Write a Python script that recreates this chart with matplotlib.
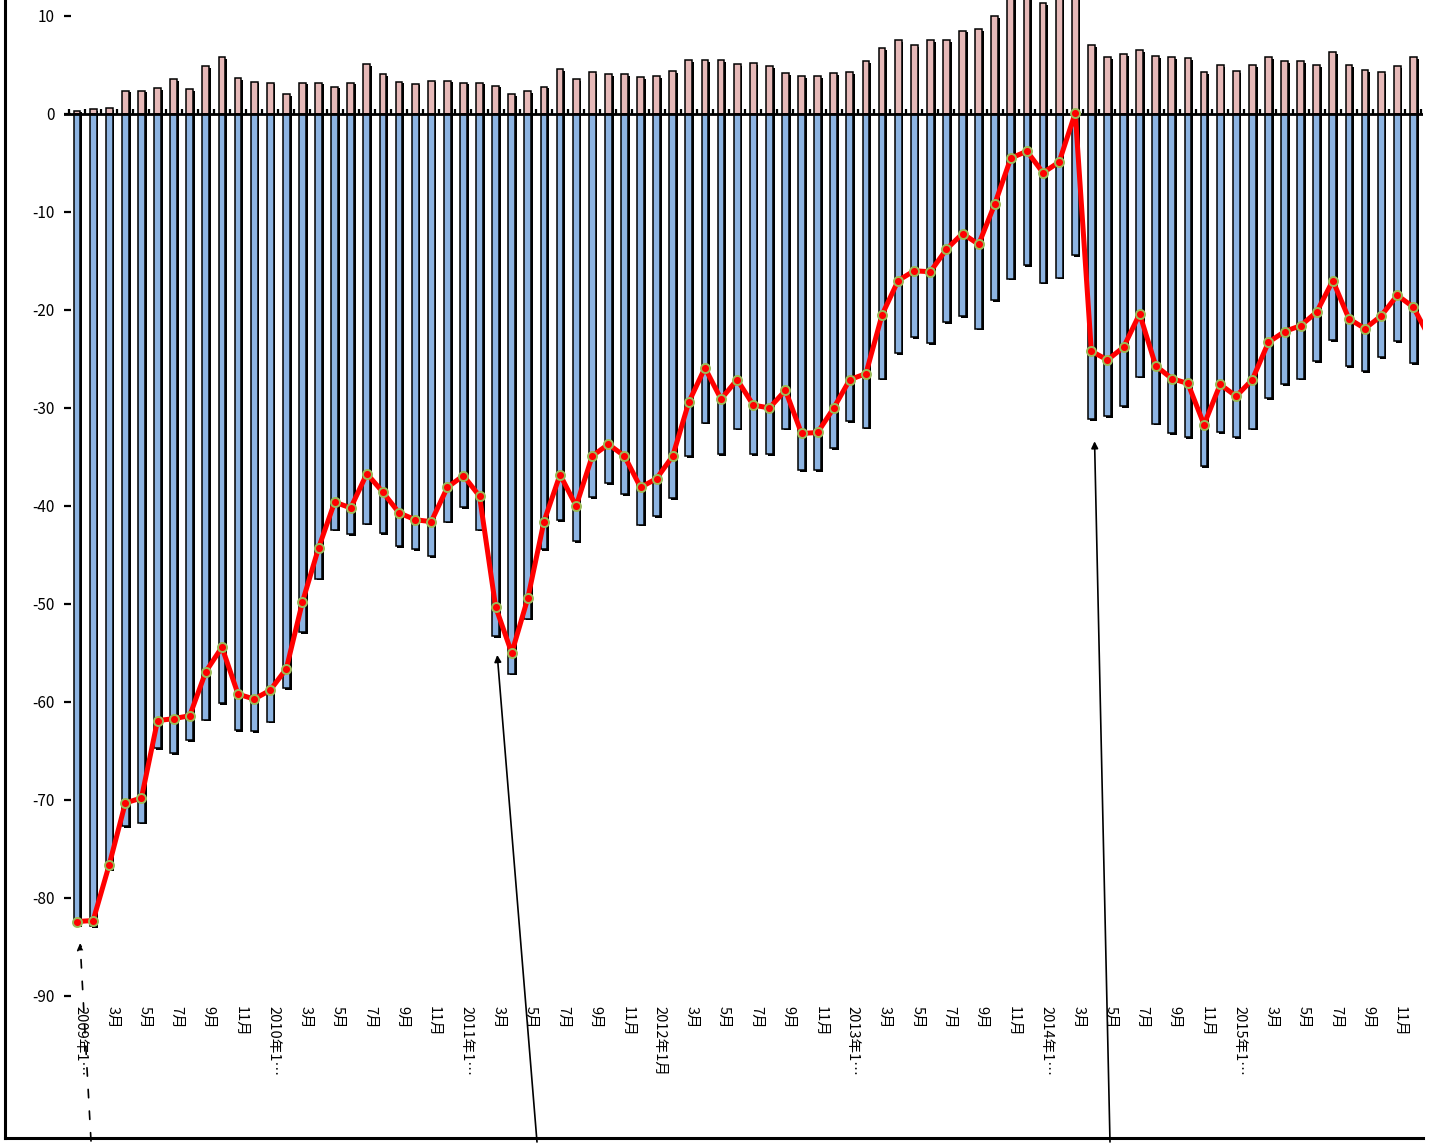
"""Monthly balance: positive / negative components as bars, net as a red line (2009-2015)."""

import matplotlib

matplotlib.use("Agg")
import matplotlib.pyplot as plt
import matplotlib.patheffects as pe
from matplotlib.lines import Line2D
from matplotlib.transforms import ScaledTranslation

# positive component per month, 2009-01 .. 2015-12
PINK = [0.34, 0.48, 0.58, 2.38, 2.38, 2.6, 3.6, 2.5, 4.9, 5.8,
        3.7, 3.3, 3.2, 2.0, 3.2, 3.2, 2.8, 3.2, 5.1, 4.05,
        3.3, 3.1, 3.4, 3.4, 3.2, 3.2, 2.9, 2.0, 2.3, 2.8,
        4.6, 3.6, 4.25, 4.05, 4.05, 3.75, 3.85, 4.35, 5.5, 5.5,
        5.5, 5.1, 5.2, 4.85, 4.2, 3.85, 3.85, 4.2, 4.3, 5.4,
        6.7, 7.5, 7.0, 7.5, 7.5, 8.5, 8.65, 9.95, 12.3, 11.8,
        11.3, 11.8, 14.5, 7.0, 5.8, 6.1, 6.5, 5.9, 5.8, 5.7,
        4.3, 5.0, 4.35, 5.0, 5.8, 5.4, 5.4, 5.0, 6.3, 5.0,
        4.45, 4.3, 4.85, 5.8]

# negative component per month
BLUE = [-82.8, -82.9, -77.1, -72.7, -72.3, -64.7, -65.2, -63.9, -61.8, -60.1,
        -62.9, -63.0, -62.0, -58.6, -52.9, -47.4, -42.4, -42.9, -41.8, -42.8,
        -44.1, -44.4, -45.1, -41.6, -40.1, -42.4, -53.3, -57.1, -51.5, -44.4,
        -41.4, -43.6, -39.1, -37.7, -38.8, -41.9, -41.0, -39.2, -34.9, -31.5,
        -34.7, -32.1, -34.7, -34.7, -32.1, -36.3, -36.3, -34.1, -31.3, -32.0,
        -27.0, -24.4, -22.8, -23.4, -21.2, -20.6, -21.9, -19.0, -16.8, -15.4,
        -17.2, -16.7, -14.4, -31.1, -30.8, -29.8, -26.8, -31.6, -32.6, -33.0,
        -35.9, -32.5, -33.0, -32.1, -29.0, -27.6, -27.0, -25.2, -23.1, -25.7,
        -26.2, -24.8, -23.2, -25.4]

# net value (line), last point 2016-01 runs off the right edge
LINE = [-82.4, -82.3, -76.6, -70.3, -69.8, -61.9, -61.7, -61.4, -56.9, -54.4,
        -59.2, -59.7, -58.8, -56.6, -49.8, -44.3, -39.6, -40.2, -36.7, -38.6,
        -40.7, -41.4, -41.6, -38.1, -36.9, -39.0, -50.3, -55.0, -49.4, -41.6,
        -36.8, -40.0, -34.9, -33.7, -34.9, -38.1, -37.2, -34.9, -29.4, -25.9,
        -29.1, -27.1, -29.7, -30.0, -28.2, -32.6, -32.5, -30.0, -27.1, -26.5,
        -20.5, -17.0, -16.0, -16.1, -13.8, -12.2, -13.3, -9.2, -4.5, -3.8,
        -6.0, -4.9, 0.1, -24.2, -25.1, -23.8, -20.4, -25.7, -27.0, -27.5,
        -31.7, -27.6, -28.8, -27.1, -23.3, -22.2, -21.6, -20.2, -17.0, -20.9,
        -21.9, -20.6, -18.5, -19.7, -22.8]

# category labels, every other month
TICK_LABELS = [
    "2009年1…", "3月", "5月", "7月", "9月", "11月",
    "2010年1…", "3月", "5月", "7月", "9月", "11月",
    "2011年1…", "3月", "5月", "7月", "9月", "11月",
    "2012年1月", "3月", "5月", "7月", "9月", "11月",
    "2013年1…", "3月", "5月", "7月", "9月", "11月",
    "2014年1…", "3月", "5月", "7月", "9月", "11月",
    "2015年1…", "3月", "5月", "7月", "9月", "11月",
]
Y_TICKS = [10, 0, -10, -20, -30, -40, -50, -60, -70, -80, -90]

FONT = ["Noto Sans CJK JP", "DejaVu Sans"]
plt.rcParams["font.family"] = FONT
plt.rcParams["axes.unicode_minus"] = False

W, H = 1436, 1144
fig = plt.figure(figsize=(W / 100, H / 100), dpi=100)
ax = fig.add_axes([64 / W, 1 - 996 / H, (1423 - 64) / W, 996 / H])

n = len(PINK)
xs = list(range(n))
shadow = [pe.SimplePatchShadow(offset=(1.3, -1.3), shadow_rgbFace="black", alpha=1.0), pe.Normal()]

pos = ax.bar(xs, PINK, width=0.42, color="#e6b9b8", edgecolor="black", linewidth=1.1, zorder=2)
neg = ax.bar(xs, BLUE, width=0.42, color="#8db4e2", edgecolor="black", linewidth=1.1, zorder=2)
for rect in list(pos) + list(neg):
    rect.set_path_effects(shadow)

# zero line with small category ticks
ax.axhline(0, color="black", linewidth=2.0, zorder=3)
ax.vlines([i - 0.5 for i in range(n + 1)], 0, 0.5, color="black", linewidth=1.6, zorder=3)

ax.plot(range(len(LINE)), LINE, color="#ff0000", linewidth=3.6, zorder=4,
        marker="o", markersize=6.5, markerfacecolor="#ff0000",
        markeredgecolor="#9bbb59", markeredgewidth=1.4)

ax.set_xlim(-0.81, 83.6)
ax.set_ylim(-90, 11.63)

for side in ["left", "right", "top", "bottom"]:
    ax.spines[side].set_visible(False)

ax.set_yticks(Y_TICKS)
ax.set_yticklabels([str(v) for v in Y_TICKS])
ax.tick_params(axis="y", direction="in", length=5, width=1.6, pad=7, labelsize=11)

ax.set_xticks(range(0, n, 2))
ax.set_xticklabels(TICK_LABELS, rotation=-90, ha="center", va="top", fontsize=10.5)
ax.tick_params(axis="x", length=0, pad=7)
offset = ScaledTranslation(3 / 100, 0, fig.dpi_scale_trans)
for lab in ax.get_xticklabels():
    lab.set_transform(lab.get_transform() + offset)

# chart-area border (left and bottom)
fig.add_artist(Line2D([5 / W, 5 / W], [1, 1 - 1138 / H], transform=fig.transFigure,
                      color="black", linewidth=2.2))
fig.add_artist(Line2D([5 / W, 1423 / W], [1 - 1138 / H, 1 - 1138 / H], transform=fig.transFigure,
                      color="black", linewidth=2.2))

# pointer arrows coming up from below the chart
ax.annotate("", xy=(0.19, -84.6), xytext=(91, 3), textcoords="figure pixels",
            arrowprops=dict(arrowstyle="-|>", color="black", lw=1.2, linestyle=(0, (5, 8)),
                            mutation_scale=10, shrinkA=0, shrinkB=0), annotation_clip=False)
ax.annotate("", xy=(26.1, -55.2), xytext=(537, 2), textcoords="figure pixels",
            arrowprops=dict(arrowstyle="-|>", color="black", lw=1.2,
                            mutation_scale=10, shrinkA=0, shrinkB=0), annotation_clip=False)
ax.annotate("", xy=(63.2, -33.4), xytext=(1110, 2), textcoords="figure pixels",
            arrowprops=dict(arrowstyle="-|>", color="black", lw=1.2,
                            mutation_scale=10, shrinkA=0, shrinkB=0), annotation_clip=False)

fig.savefig("out.png", dpi=100)
plt.close(fig)
